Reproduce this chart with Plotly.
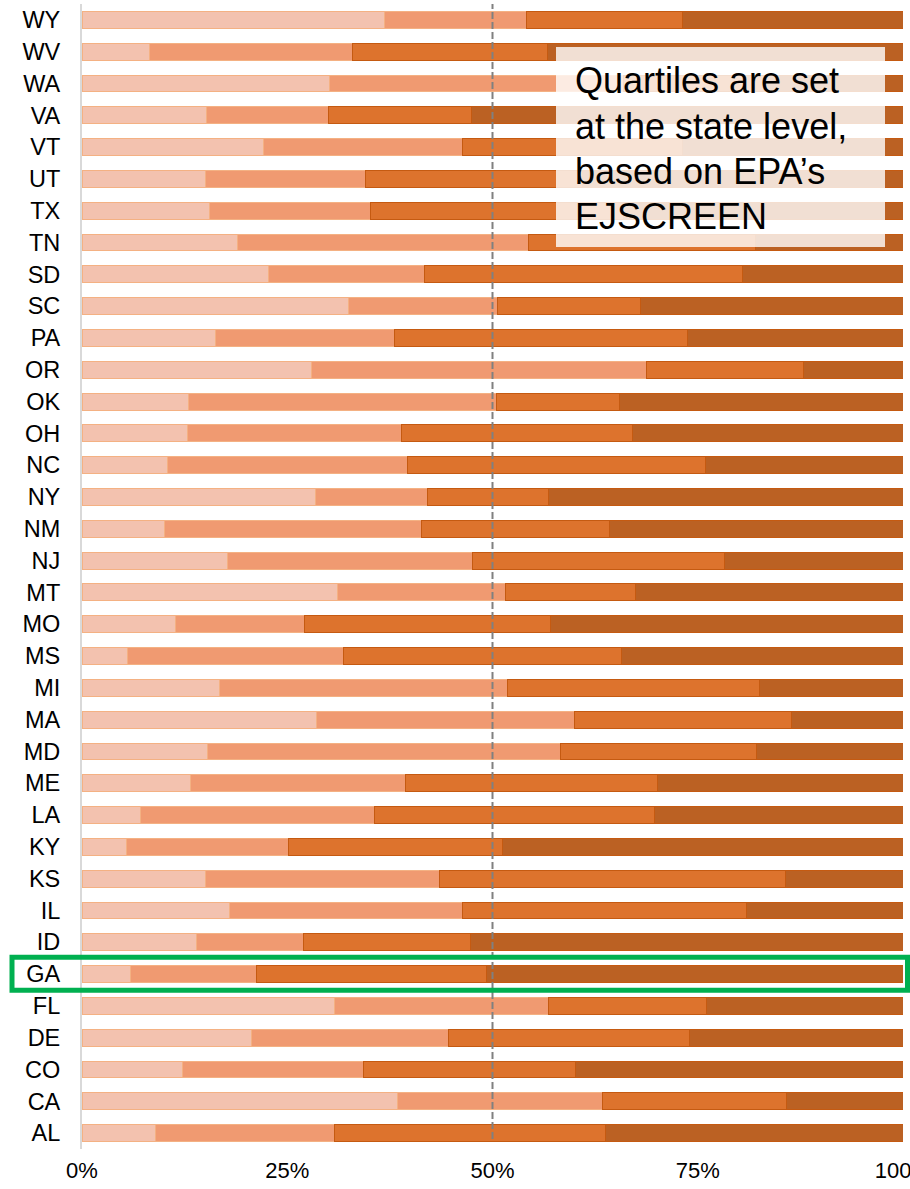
import plotly.graph_objects as go

# States, top to bottom as shown
states = ["WY", "WV", "WA", "VA", "VT", "UT", "TX", "TN", "SD", "SC", "PA", "OR",
          "OK", "OH", "NC", "NY", "NM", "NJ", "MT", "MO", "MS", "MI", "MA", "MD",
          "ME", "LA", "KY", "KS", "IL", "ID", "GA", "FL", "DE", "CO", "CA", "AL"]

# Share (%) of each state's population in each EJSCREEN quartile
q1 = [36.8, 8.2, 30.2, 15.2, 22.1, 15.0, 15.5, 19.0, 22.7, 32.5, 16.2, 27.9,
      13.0, 12.9, 10.4, 28.5, 10.1, 17.7, 31.1, 11.4, 5.6, 16.7, 28.6, 15.3,
      13.2, 7.1, 5.4, 15.0, 18.0, 14.0, 5.9, 30.7, 20.7, 12.3, 38.4, 9.0]
q2 = [17.4, 24.8, 35.8, 14.8, 24.3, 19.5, 19.7, 35.4, 19.0, 18.1, 21.9, 40.8,
      37.5, 26.0, 29.3, 13.6, 31.2, 29.9, 20.5, 15.7, 26.2, 35.1, 31.4, 43.0,
      26.2, 28.5, 19.7, 28.6, 28.4, 13.0, 15.4, 26.1, 23.9, 22.0, 25.0, 21.8]
q3 = [18.9, 23.7, 17.0, 17.5, 26.8, 26.5, 30.8, 27.6, 38.7, 17.4, 35.7, 19.2,
      15.0, 28.1, 36.2, 14.7, 23.0, 30.7, 15.8, 30.0, 33.9, 30.7, 26.4, 23.8,
      30.7, 34.1, 26.1, 42.1, 34.5, 20.3, 28.0, 19.3, 29.4, 25.8, 22.4, 33.0]
q4 = [26.9, 43.3, 17.0, 52.5, 26.8, 39.0, 34.0, 18.0, 19.6, 32.0, 26.2, 12.1,
      34.5, 33.0, 24.1, 43.2, 35.7, 21.7, 32.6, 42.9, 34.3, 17.5, 13.6, 17.9,
      29.9, 30.3, 48.8, 14.3, 19.1, 52.7, 50.7, 23.9, 26.0, 39.9, 14.2, 36.2]

series_names = ["Quartile 1", "Quartile 2", "Quartile 3", "Quartile 4"]
tick_vals = [0, 25, 50, 75, 100]
tick_text = ["0%", "25%", "50%", "75%", "100%"]
highlight_state = "GA"
note_lines = ["Quartiles are set", "at the state level,", "based on EPA’s", "EJSCREEN"]

fills = ["#F3C2AF", "#F09A71", "#DD732D", "#BB6123"]
edges = ["#F4B183", "#F4B183", "#C55A11", "#C55A11"]

fig = go.Figure()
for name, vals, fc, ec in zip(series_names, [q1, q2, q3, q4], fills, edges):
    fig.add_trace(go.Bar(
        y=states, x=vals, orientation="h", name=name,
        marker=dict(color=fc, line=dict(color=ec, width=1)),
        showlegend=False, hoverinfo="y+x",
    ))

W, H = 910, 1189
ml, mr, mt, mb = 82, 7, 4, 40
plot_h = H - mt - mb

def py(px):
    return (H - mb - px) / plot_h

def pxx(px):
    return (px - ml) / (W - ml - mr)

fig.update_layout(
    width=W, height=H,
    margin=dict(l=ml, r=mr, t=mt, b=mb, pad=0, autoexpand=False),
    barmode="stack", bargap=0.47,
    plot_bgcolor="white", paper_bgcolor="white",
    font=dict(family="Liberation Sans, Arial, sans-serif", color="#000000"),
    xaxis=dict(range=[0, 100], tickvals=tick_vals, ticktext=tick_text,
               showgrid=False, zeroline=False, showline=False, automargin=False,
               tickfont=dict(size=22), ticks="", ticklabelstandoff=6,
               ticklabeloverflow="allow"),
    yaxis=dict(categoryorder="array", categoryarray=states, autorange="reversed",
               showgrid=False, zeroline=False, showline=True, automargin=False,
               linecolor="#D9D9D9", linewidth=2, ticks="",
               tickfont=dict(size=23.5), ticklabelstandoff=15),
)

# 50% reference line
fig.add_shape(type="line", xref="x", yref="paper", x0=50, x1=50,
              y0=py(1139), y1=1.0, layer="above",
              line=dict(color="#808080", width=2, dash="7px,3px"))

# Note box (semi-transparent white)
fig.add_shape(type="rect", xref="paper", yref="paper",
              x0=pxx(556), x1=pxx(885), y0=py(247), y1=py(47),
              fillcolor="rgba(255,255,255,0.8)", line=dict(width=0), layer="above")
for i, line in enumerate(note_lines):
    fig.add_annotation(xref="paper", yref="paper", x=pxx(573), y=py(81 + 45 * i),
                       xanchor="left", yanchor="middle", align="left",
                       text=line, showarrow=False,
                       font=dict(size=36, color="#000000",
                                 family="Liberation Sans, Arial, sans-serif"))

# Highlight box around GA
gi = states.index(highlight_state)
fig.add_shape(type="rect", xref="paper", yref="y",
              x0=pxx(12), x1=pxx(907.5), y0=gi - 0.53, y1=gi + 0.51,
              line=dict(color="#00B050", width=5), fillcolor="rgba(0,0,0,0)",
              layer="above")

fig.write_html("out.html", config={"displayModeBar": False},
               post_script="document.body.style.margin='0';document.body.style.overflow='hidden';")
